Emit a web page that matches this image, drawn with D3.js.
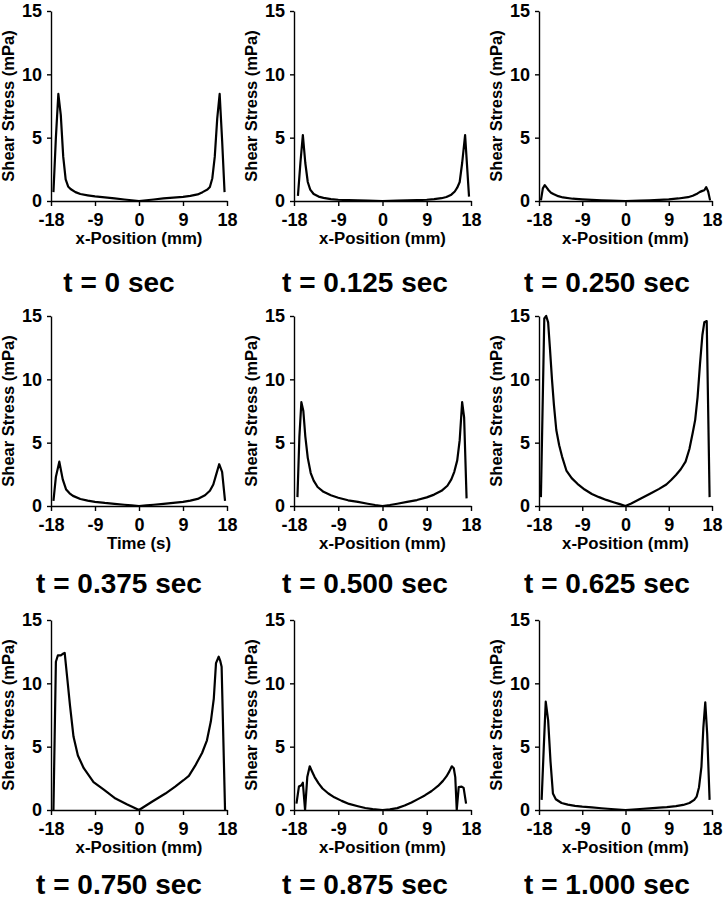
<!DOCTYPE html>
<html><head><meta charset="utf-8">
<script src="https://cdn.jsdelivr.net/npm/d3@7"></script>
<style>
body{margin:0;background:#fff}
svg{display:block}
text{font-family:Arial,"Liberation Sans",sans-serif;font-weight:bold;fill:#000}
</style></head><body>
<svg id="chart" width="723" height="900"></svg>
<script>
// ---------- data ----------
const timeLabels = ["t = 0 sec","t = 0.125 sec","t = 0.250 sec","t = 0.375 sec","t = 0.500 sec","t = 0.625 sec","t = 0.750 sec","t = 0.875 sec","t = 1.000 sec"];
const xAxisLabels = ["x-Position (mm)","x-Position (mm)","x-Position (mm)","Time (s)","x-Position (mm)","x-Position (mm)","x-Position (mm)","x-Position (mm)","x-Position (mm)"];
const yAxisLabel = "Shear Stress (mPa)";
const xTicks = [-18, -9, 0, 9, 18];
const yTicks = [0, 5, 10, 15];

const pos0 = [-17.5,-17.0,-16.5,-16.0,-15.5,-15.0,-14.5,-14.0,-13.0,-12.0,-10.5,-9.0,-7.0,-5.0,-3.0,-1.5,0,1.5,3,5,7,9,10.5,12,13,14,14.5,15,15.5,16,16.5,17.0,17.5];
const ss0  = [0.7,5.0,8.45,6.8,3.5,1.7,1.15,0.95,0.7,0.55,0.45,0.36,0.28,0.2,0.12,0.06,0,0.06,0.12,0.2,0.27,0.33,0.4,0.52,0.7,0.9,1.1,1.8,3.5,6.5,8.45,4.8,0.7];

const pos1 = [-17.2,-16.7,-16.2,-15.7,-15.2,-14.7,-14.0,-13.0,-12.0,-10.5,-9,-7,-5,-3,-1.5,0,1.5,3,5,7,9,10.5,12,13,14,14.7,15.2,15.7,16.2,16.8,17.6];
const ss1  = [0.4,3.0,5.2,3.0,1.5,0.9,0.55,0.35,0.25,0.15,0.1,0.07,0.05,0.03,0.02,0,0.02,0.03,0.05,0.07,0.1,0.15,0.22,0.32,0.5,0.75,1.05,1.5,3.0,5.2,0.35];

const pos2 = [-17.6,-17.2,-16.8,-16.4,-16.0,-15.5,-15,-14,-13,-11,-9,-7,-5,-3,-1.5,0,1.5,3,5,7,9,11,13,14,15,15.5,16,16.4,16.8,17.2,17.6];
const ss2  = [0.05,1.0,1.25,1.05,0.85,0.65,0.55,0.38,0.28,0.18,0.13,0.09,0.06,0.03,0.015,0,0.015,0.03,0.06,0.09,0.13,0.2,0.3,0.42,0.6,0.72,0.8,0.85,1.1,0.75,0.05];

const pos3 = [-17.5,-17.0,-16.3,-15.6,-14.9,-14.2,-13.5,-12,-10.5,-9,-7,-5,-3,-1.5,0,1.5,3,5,7,9,10.5,12,13.5,14.5,15.2,15.8,16.4,17.0,17.6];
const ss3  = [0.4,2.3,3.5,2.1,1.3,1.0,0.8,0.55,0.42,0.33,0.24,0.17,0.1,0.05,0,0.05,0.1,0.17,0.24,0.32,0.42,0.56,0.85,1.2,1.7,2.5,3.3,2.7,0.4];

const pos4 = [-17.3,-16.9,-16.5,-16.1,-15.7,-15.2,-14.6,-14.0,-13.2,-12.0,-10.5,-9,-7,-5,-3,-1.5,0,1.5,3,5,7,9,10.5,12,13.2,14,14.6,15.2,15.7,16.2,16.6,17.1];
const ss4  = [0.7,5.5,8.2,7.5,5.5,3.8,2.6,2.0,1.5,1.12,0.85,0.65,0.45,0.32,0.18,0.08,0,0.08,0.18,0.32,0.47,0.68,0.9,1.2,1.6,2.1,2.7,3.6,5.2,8.2,7.0,0.6];

const pos5 = [-17.6,-16.9,-16.5,-16.1,-15.7,-15.3,-14.9,-14.4,-13.8,-13.2,-12.3,-11.2,-10,-8.5,-7,-5.5,-4,-2.5,-1.2,0,1.2,2.5,4,5.5,7,8.5,9.5,10.5,11.5,12.5,13.3,14,14.5,15,15.5,16,16.4,16.9,17.5];
const ss5  = [0.7,14.8,15.0,14.5,12.3,10.0,8.0,6.0,4.8,3.9,2.8,2.2,1.75,1.3,0.95,0.7,0.48,0.3,0.15,0,0.2,0.45,0.75,1.05,1.35,1.7,2.05,2.45,2.9,3.5,4.5,5.8,6.8,8.6,11.2,13.5,14.5,14.6,0.7];

const pos6 = [-17.5,-17.0,-16.6,-16.0,-15.5,-15.2,-14.7,-14.1,-13.4,-12.5,-11.3,-9.3,-7.2,-4.8,-2.5,0,2.65,5.4,7.4,9.1,10.2,11.5,12.9,13.9,14.7,15.3,15.75,16.3,16.6,16.9,17.6];
const ss6  = [0,11.7,12.2,12.2,12.35,12.4,10.5,8.2,5.8,4.3,3.3,2.2,1.6,0.9,0.45,0,0.65,1.3,1.85,2.35,2.7,3.5,4.5,5.5,7.0,8.8,11.6,12.1,11.8,11.3,0];

const pos7 = [-17.5,-17.0,-16.5,-16.2,-15.75,-15.3,-14.8,-14.4,-13.8,-13,-12.2,-11,-9.8,-8.3,-6.8,-5,-3.5,-2,0,1.5,3,4.5,5.9,7.3,8.6,10,11.3,12.3,13,13.6,14.1,14.5,14.8,15.1,15.5,16.1,16.5,17.0];
const ss7  = [0.5,1.85,1.95,2.15,0,2.6,3.45,3.1,2.6,2.1,1.7,1.3,1.0,0.72,0.48,0.3,0.16,0.07,0,0.05,0.15,0.35,0.6,0.88,1.15,1.5,1.9,2.3,2.65,3.05,3.45,3.3,2.6,0,1.8,1.85,1.75,0.5];

const pos8 = [-17.45,-17.0,-16.6,-16.1,-15.6,-15.1,-14.5,-13.3,-12,-10.5,-9,-7,-5,-3,-1.5,0,1.5,3,5,7,8.6,10.5,12,13.3,14.3,14.8,15.3,15.8,16.2,16.6,17.0,17.5];
const ss8  = [0.8,5.0,8.55,7.1,3.8,1.3,0.85,0.55,0.42,0.33,0.26,0.2,0.14,0.08,0.04,0,0.04,0.08,0.13,0.18,0.22,0.3,0.4,0.55,0.8,1.05,1.8,3.4,6.5,8.5,6.0,0.8];

const positions = [pos0,pos1,pos2,pos3,pos4,pos5,pos6,pos7,pos8];
const stresses  = [ss0,ss1,ss2,ss3,ss4,ss5,ss6,ss7,ss8];

// ---------- layout ----------
const colAxisX = [51, 294, 539];
const colPlotW = [176, 177, 173];
const rowTopY  = [11, 316, 620];
const plotH = 190;
const titleX = [119, 365, 607];
const titleY = [292, 593, 894];

const svg = d3.select("#chart");

positions.forEach((pos, i) => {
  const c = i % 3, r = Math.floor(i / 3);
  const plotW = colPlotW[c];
  const x = d3.scaleLinear().domain([-18, 18]).range([0, plotW]);
  const y = d3.scaleLinear().domain([0, 15]).range([plotH, 0]);
  const g = svg.append("g").attr("transform", `translate(${colAxisX[c]},${rowTopY[r]})`);

  const xa = g.append("g").attr("transform", `translate(0,${plotH})`)
    .call(d3.axisBottom(x).tickValues(xTicks).tickFormat(d => String(d)).tickSize(5).tickSizeOuter(0).tickPadding(7));
  const ya = g.append("g")
    .call(d3.axisLeft(y).tickValues(yTicks).tickFormat(d => String(d)).tickSize(4).tickSizeOuter(0).tickPadding(5));
  [xa, ya].forEach(a => {
    a.selectAll(".domain").attr("stroke", "#000").attr("stroke-width", 1.4);
    a.selectAll(".tick line").attr("stroke", "#000").attr("stroke-width", 1.4);
    a.selectAll(".tick text").style("font-size", "18px").attr("fill", "#000");
  });

  const data = pos.map((p, k) => [p, stresses[i][k]]);
  g.append("path").datum(data)
    .attr("fill", "none").attr("stroke", "#000").attr("stroke-width", 2.2)
    .attr("stroke-linejoin", "round")
    .attr("d", d3.line().x(d => x(d[0])).y(d => y(d[1])));

  g.append("text").attr("x", plotW / 2).attr("y", plotH + 43)
    .attr("text-anchor", "middle").style("font-size", "16.8px").text(xAxisLabels[i]);
  g.append("text").attr("transform", `translate(-37,${plotH / 2}) rotate(-90)`)
    .attr("text-anchor", "middle").style("font-size", "16.5px").text(yAxisLabel);

  svg.append("text").attr("x", titleX[c]).attr("y", titleY[r])
    .attr("text-anchor", "middle").style("font-size", "28px").text(timeLabels[i]);
});
</script>
</body></html>
